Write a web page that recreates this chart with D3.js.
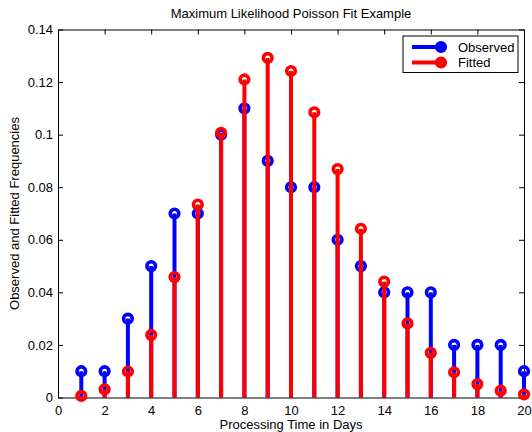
<!DOCTYPE html>
<html><head><meta charset="utf-8">
<script src="https://cdn.jsdelivr.net/npm/d3@7"></script>
<style>body{margin:0;background:#fff}svg{display:block;font-family:"Liberation Sans",Arial,Helvetica,sans-serif}</style>
</head><body>
<script>
const days = [1,2,3,4,5,6,7,8,9,10,11,12,13,14,15,16,17,18,19,20];
const observed = [0.01,0.01,0.03,0.05,0.07,0.07,0.10,0.11,0.09,0.08,0.08,0.06,0.05,0.04,0.04,0.04,0.02,0.02,0.02,0.01];
const fitted = [0.0006,0.0031,0.0099,0.0238,0.0458,0.0734,0.1007,0.1210,0.1292,0.1242,0.1085,0.0869,0.0642,0.0441,0.0282,0.0170,0.0096,0.0051,0.0026,0.0012];
const xTicks = [0,2,4,6,8,10,12,14,16,18,20];
const yTicks = [0,0.02,0.04,0.06,0.08,0.1,0.12,0.14];
const seriesNames = ["Observed","Fitted"];
const seriesColors = ["#0000ff","#ff0000"];

const W=532,H=432;
const L=58,R=524,T=29.5,B=397.5;
const svg=d3.select("body").append("svg").attr("width",W).attr("height",H);
const x=d3.scaleLinear().domain([0,20]).range([L,R]);
const y=d3.scaleLinear().domain([0,0.14]).range([B,T]);

// axes box
const g=svg.append("g");
const fmtY=d=>d===0?"0":String(+d.toFixed(2));
const axB=d3.axisBottom(x).tickValues(xTicks).tickSizeInner(-5).tickSizeOuter(0).tickPadding(8);
const axT=d3.axisTop(x).tickValues(xTicks).tickSizeInner(-5).tickSizeOuter(0).tickFormat("");
const axL=d3.axisLeft(y).tickValues(yTicks).tickSizeInner(-5).tickSizeOuter(0).tickPadding(5).tickFormat(fmtY);
const axR=d3.axisRight(y).tickValues(yTicks).tickSizeInner(-5).tickSizeOuter(0).tickFormat("");
function style(sel){sel.selectAll("path").attr("stroke","#000").attr("stroke-width",1);
  sel.selectAll("line").attr("stroke","#000").attr("stroke-width",1);
  sel.selectAll("text").attr("fill","#000").attr("font-size",13).attr("font-family","Liberation Sans,Arial,sans-serif");}
g.append("g").attr("transform",`translate(0,${B})`).call(axB).call(style);
g.append("g").attr("transform",`translate(0,${T})`).call(axT).call(style);
g.append("g").attr("transform",`translate(${L},0)`).call(axL).call(style);
g.append("g").attr("transform",`translate(${R},0)`).call(axR).call(style);

// stems
const data=[observed,fitted];
data.forEach((vals,si)=>{
  const s=svg.append("g");
  s.selectAll("line").data(days).join("line")
    .attr("x1",d=>x(d)).attr("x2",d=>x(d))
    .attr("y1",y(0)).attr("y2",(d,i)=>y(vals[i]))
    .attr("stroke",seriesColors[si]).attr("stroke-width",4);
  s.selectAll("circle").data(days).join("circle")
    .attr("cx",d=>x(d)).attr("cy",(d,i)=>y(vals[i])).attr("r",4.3)
    .attr("fill","none").attr("stroke",seriesColors[si]).attr("stroke-width",3.6);
});

// title and labels
svg.append("text").attr("x",(L+R)/2).attr("y",18).attr("text-anchor","middle").attr("font-size",13).text("Maximum Likelihood Poisson Fit Example");
svg.append("text").attr("x",(L+R)/2).attr("y",429).attr("text-anchor","middle").attr("font-size",13).text("Processing Time in Days");
svg.append("text").attr("transform",`translate(19,${(T+B)/2}) rotate(-90)`).attr("text-anchor","middle").attr("font-size",13).text("Observed and Fitted Frequencies");

// legend
const lg=svg.append("g");
lg.append("rect").attr("x",403).attr("y",36).attr("width",115).attr("height",36.5).attr("fill","#fff").attr("stroke","#000").attr("stroke-width",1);
seriesNames.forEach((n,i)=>{
  const yy=47+i*15.5;
  lg.append("line").attr("x1",412).attr("x2",441).attr("y1",yy).attr("y2",yy).attr("stroke",seriesColors[i]).attr("stroke-width",4);
  lg.append("circle").attr("cx",441).attr("cy",yy).attr("r",4.3).attr("fill",seriesColors[i]).attr("stroke",seriesColors[i]).attr("stroke-width",3.6);
  lg.append("text").attr("x",458).attr("y",yy+4.5).attr("font-size",13).text(n);
});
</script>
</body></html>
